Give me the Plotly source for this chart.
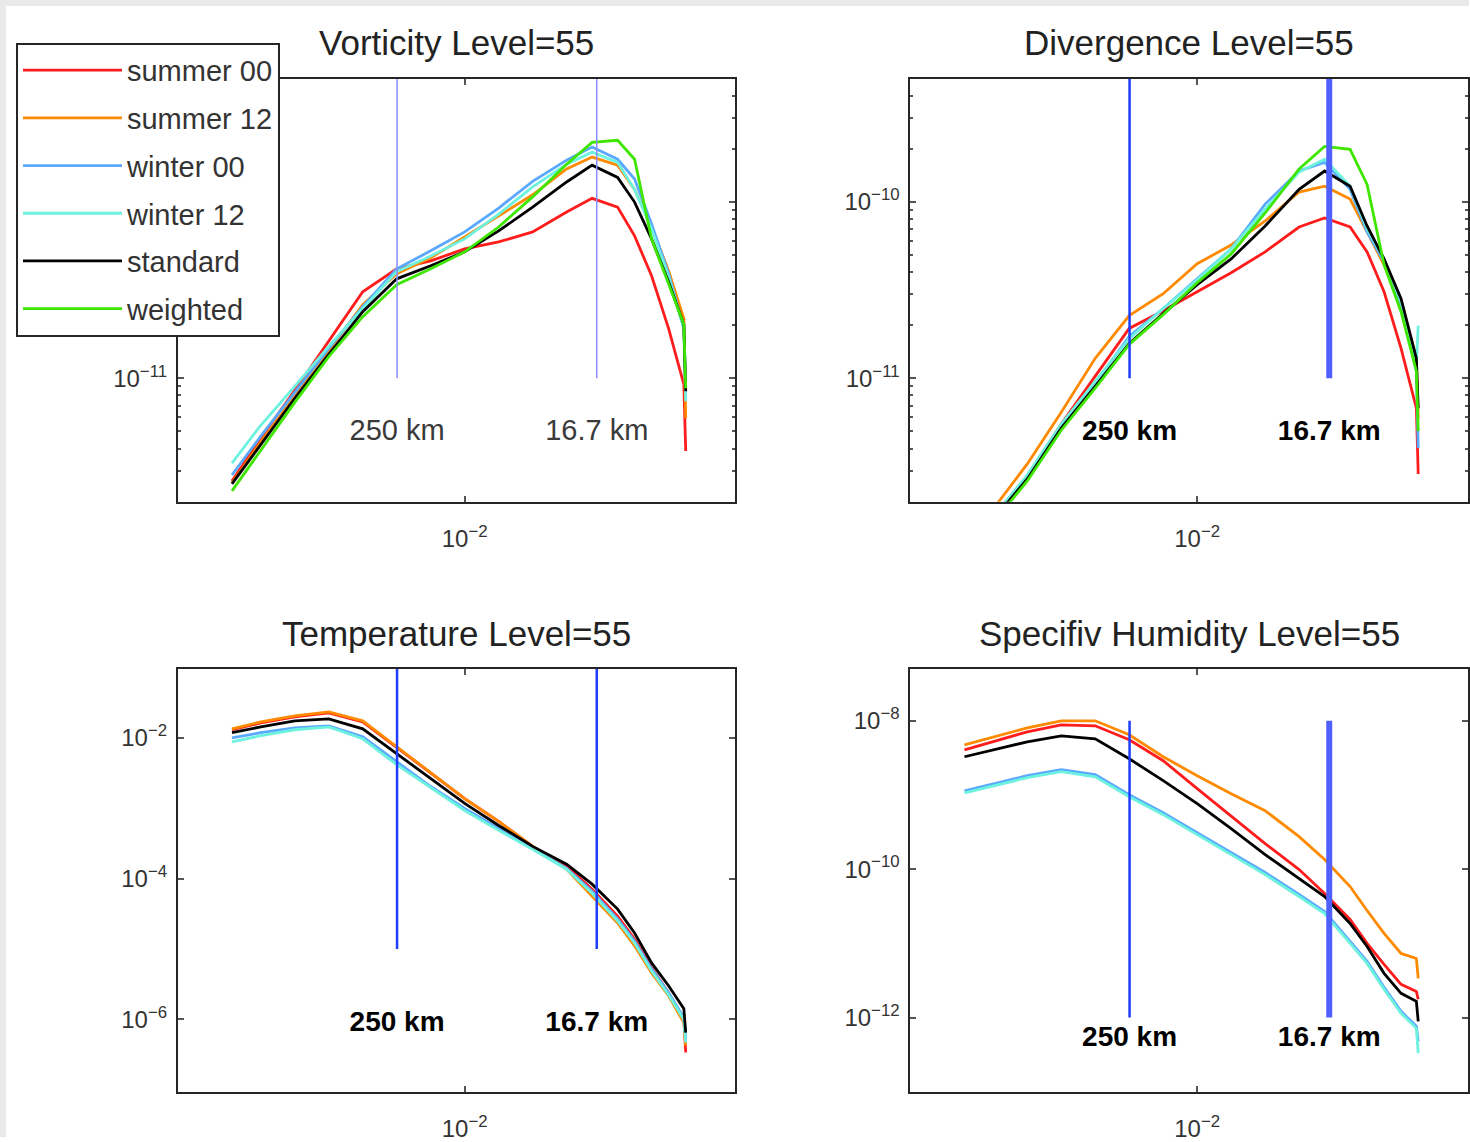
import plotly.graph_objects as go

# ---------------- data ----------------
wavenumber = [4.27e-4, 6.31e-4, 1.0e-3, 1.585e-3, 2.512e-3, 3.981e-3, 6.31e-3, 1.0e-2,
              1.585e-2, 2.512e-2, 3.981e-2, 5.623e-2, 7.943e-2, 0.1, 0.1259, 0.1585, 0.195, 0.2]

series_names = ["summer 00", "summer 12", "winter 00", "winter 12", "standard", "weighted"]

vort_summer00 = [2.62e-12, 4.58e-12, 8.55e-12, 1.62e-11, 3.10e-11, 4.18e-11, 4.64e-11, 5.42e-11, 5.94e-11,
                 6.77e-11, 8.78e-11, 1.05e-10, 9.37e-11, 6.43e-11, 3.82e-11, 1.92e-11, 9.25e-12, 3.87e-12]
vort_summer12 = [2.55e-12, 4.35e-12, 7.91e-12, 1.44e-11, 2.62e-11, 3.92e-11, 4.83e-11, 6.34e-11, 8.33e-11,
                 1.10e-10, 1.54e-10, 1.80e-10, 1.62e-10, 1.18e-10, 7.22e-11, 4.08e-11, 2.18e-11, 5.94e-12]
vort_winter00 = [2.83e-12, 4.70e-12, 8.34e-12, 1.48e-11, 2.55e-11, 4.18e-11, 5.29e-11, 6.77e-11, 9.25e-11,
                 1.31e-10, 1.73e-10, 2.05e-10, 1.75e-10, 1.35e-10, 7.51e-11, 3.92e-11, 1.92e-11, 8.23e-12]
vort_winter12 = [3.31e-12, 5.42e-12, 9.01e-12, 1.52e-11, 2.49e-11, 4.03e-11, 4.95e-11, 6.18e-11, 8.55e-11,
                 1.22e-10, 1.64e-10, 1.92e-10, 1.68e-10, 1.18e-10, 7.04e-11, 3.77e-11, 1.92e-11, 7.41e-12]
vort_standard = [2.52e-12, 4.24e-12, 7.71e-12, 1.37e-11, 2.39e-11, 3.67e-11, 4.35e-11, 5.22e-11, 6.86e-11,
                 9.37e-11, 1.30e-10, 1.62e-10, 1.38e-10, 1.00e-10, 6.18e-11, 3.53e-11, 2.02e-11, 8.45e-12]
vort_weighted = [2.30e-12, 3.92e-12, 7.31e-12, 1.33e-11, 2.24e-11, 3.40e-11, 4.18e-11, 5.22e-11, 7.22e-11,
                 1.07e-10, 1.64e-10, 2.18e-10, 2.24e-10, 1.75e-10, 6.18e-11, 3.44e-11, 2.02e-11, 8.79e-12]

div_summer00 = [9.62e-13, 1.64e-12, 2.79e-12, 5.50e-12, 1.03e-11, 1.92e-11, 2.42e-11, 3.10e-11, 3.97e-11,
                5.22e-11, 7.22e-11, 8.12e-11, 7.22e-11, 5.22e-11, 3.10e-11, 1.48e-11, 6.77e-12, 2.87e-12]
div_summer12 = [1.07e-12, 1.82e-12, 3.27e-12, 6.43e-12, 1.30e-11, 2.27e-11, 3.02e-11, 4.47e-11, 5.71e-11,
                7.81e-11, 1.14e-10, 1.23e-10, 1.04e-10, 6.77e-11, 4.41e-11, 2.62e-11, 1.30e-11, 5.94e-12]
div_winter00 = [9.37e-13, 1.62e-12, 2.79e-12, 5.42e-12, 9.37e-12, 1.73e-11, 2.49e-11, 3.67e-11, 5.42e-11,
                9.74e-11, 1.50e-10, 1.68e-10, 1.18e-10, 6.77e-11, 4.58e-11, 2.62e-11, 1.10e-11, 4.03e-12]
div_winter12 = [9.49e-13, 1.64e-12, 2.83e-12, 5.50e-12, 9.61e-12, 1.68e-11, 2.49e-11, 3.62e-11, 5.42e-11,
                9.13e-11, 1.48e-10, 1.75e-10, 1.23e-10, 7.04e-11, 4.76e-11, 2.72e-11, 1.20e-11, 1.99e-11]
div_standard = [9.12e-13, 1.58e-12, 2.69e-12, 5.22e-12, 9.01e-12, 1.58e-11, 2.33e-11, 3.40e-11, 4.76e-11,
                7.32e-11, 1.18e-10, 1.50e-10, 1.23e-10, 7.32e-11, 4.76e-11, 2.83e-11, 1.30e-11, 6.77e-12]
div_weighted = [8.67e-13, 1.52e-12, 2.62e-12, 5.08e-12, 8.79e-12, 1.56e-11, 2.30e-11, 3.49e-11, 5.08e-11,
                8.67e-11, 1.54e-10, 2.07e-10, 1.99e-10, 1.26e-10, 4.41e-11, 2.39e-11, 1.10e-11, 5.02e-12]

temp_summer00 = [1.30e-2, 1.63e-2, 1.98e-2, 2.26e-2, 1.68e-2, 7.22e-3, 3.10e-3, 1.37e-3, 6.49e-4,
                 2.87e-4, 1.50e-4, 7.08e-5, 2.94e-5, 1.39e-5, 5.40e-6, 2.39e-6, 9.93e-7, 3.39e-7]
temp_summer12 = [1.34e-2, 1.68e-2, 2.05e-2, 2.33e-2, 1.74e-2, 7.46e-3, 3.10e-3, 1.37e-3, 6.49e-4,
                 2.87e-4, 1.36e-4, 5.64e-5, 2.34e-5, 1.11e-5, 4.59e-6, 2.17e-6, 9.01e-7, 4.26e-7]
temp_winter00 = [1.00e-2, 1.18e-2, 1.38e-2, 1.48e-2, 1.03e-2, 4.58e-3, 2.03e-3, 9.90e-4, 5.16e-4,
                 2.69e-4, 1.40e-4, 6.64e-5, 2.67e-5, 1.30e-5, 5.23e-6, 2.39e-6, 1.06e-6, 5.35e-7]
temp_winter12 = [8.78e-3, 1.07e-2, 1.30e-2, 1.43e-2, 9.68e-3, 4.15e-3, 1.96e-3, 9.27e-4, 4.84e-4,
                 2.61e-4, 1.36e-4, 6.21e-5, 2.50e-5, 1.22e-5, 4.90e-6, 2.24e-6, 9.93e-7, 4.70e-7]
temp_standard = [1.18e-2, 1.43e-2, 1.74e-2, 1.86e-2, 1.34e-2, 5.94e-3, 2.63e-3, 1.17e-3, 5.69e-4,
                 2.87e-4, 1.60e-4, 8.34e-5, 3.69e-5, 1.69e-5, 6.35e-6, 3.01e-6, 1.42e-6, 6.50e-7]

hum_summer00 = [4.07e-9, 5.21e-9, 7.11e-9, 8.83e-9, 8.57e-9, 5.55e-9, 2.90e-9, 1.22e-9, 5.26e-10,
                2.21e-10, 9.88e-11, 4.70e-11, 2.10e-11, 9.98e-12, 5.20e-12, 2.80e-12, 2.25e-12, 1.76e-12]
hum_summer12 = [4.75e-9, 6.09e-9, 8.05e-9, 1.00e-8, 1.00e-8, 6.48e-9, 3.28e-9, 1.82e-9, 1.04e-9,
                6.15e-10, 2.75e-10, 1.35e-10, 5.83e-11, 2.77e-11, 1.36e-11, 7.31e-12, 6.26e-12, 3.37e-12]
hum_winter00 = [1.14e-9, 1.42e-9, 1.82e-9, 2.19e-9, 1.88e-9, 1.01e-9, 5.78e-10, 3.11e-10, 1.67e-10,
                9.00e-11, 4.55e-11, 2.69e-11, 1.06e-11, 5.71e-12, 2.55e-12, 1.21e-12, 7.62e-13, 4.79e-13]
hum_winter12 = [1.07e-9, 1.33e-9, 1.71e-9, 2.06e-9, 1.76e-9, 9.48e-10, 5.43e-10, 2.92e-10, 1.57e-10,
                8.45e-11, 4.28e-11, 2.52e-11, 9.98e-12, 5.36e-12, 2.40e-12, 1.14e-12, 7.16e-13, 3.30e-13]
hum_standard = [3.28e-9, 4.07e-9, 5.21e-9, 6.28e-9, 5.73e-9, 3.08e-9, 1.56e-9, 7.64e-10, 3.52e-10,
                1.57e-10, 7.47e-11, 4.28e-11, 1.85e-11, 9.08e-12, 3.94e-12, 2.12e-12, 1.65e-12, 8.89e-13]

scale_km = [250, 16.7]
scale_labels = ["250 km", "16.7 km"]
vort_line_y = [1e-11, 1e-9]
div_line_y = [1e-11, 1e-9]
temp_line_y = [1e-5, 1.0]
hum_line_y = [1e-12, 1e-8]
vort_label_y = 4.9e-12
div_label_y = 4.9e-12
temp_label_y = 8.7e-7
hum_label_y = 5.2e-13

x_tick_vals = [1e-2]
x_tick_text = ["10<sup>\u22122</sup>"]
vort_tick_vals = [1e-11, 1e-10]
vort_tick_text = ["10<sup>\u221211</sup>", ""]          # 10^-10 label sits under the legend
div_tick_text = ["10<sup>\u221211</sup>", "10<sup>\u221210</sup>"]
temp_tick_vals = [1e-6, 1e-4, 1e-2]
temp_tick_text = ["10<sup>\u22126</sup>", "10<sup>\u22124</sup>", "10<sup>\u22122</sup>"]
hum_tick_vals = [1e-12, 1e-10, 1e-8]
hum_tick_text = ["10<sup>\u221212</sup>", "10<sup>\u221210</sup>", "10<sup>\u22128</sup>"]
minor_vals = [m * 10.0 ** e for e in (-12, -11, -10) for m in range(2, 10)]

# ---------------- styling ----------------
W, H = 1470, 1142
FONT = "Liberation Sans"
colors = {"summer 00": "#ff1c1c", "summer 12": "#ff8a00", "winter 00": "#5aa8ff",
          "winter 12": "#6cf2de", "standard": "#000000", "weighted": "#3ee600"}

panels = [
    dict(title="Vorticity Level=55", ax="", series=[vort_summer00, vort_summer12, vort_winter00,
         vort_winter12, vort_standard, vort_weighted], line_y=vort_line_y, label_y=vort_label_y,
         line_w=[1.5, 1.5], line_c=["#8a8cff", "#8a8cff"], bold=False,
         tv=vort_tick_vals, tt=vort_tick_text, yr=[-11.70, -9.30], minor=True,
         xd=[178, 736], yd=[79, 504]),
    dict(title="Divergence Level=55", ax="2", series=[div_summer00, div_summer12, div_winter00,
         div_winter12, div_standard, div_weighted], line_y=div_line_y, label_y=div_label_y,
         line_w=[2.5, 6], line_c=["#1e3cff", "#5060ff"], bold=True,
         tv=vort_tick_vals, tt=div_tick_text, yr=[-11.70, -9.30], minor=True,
         xd=[911, 1469], yd=[79, 504]),
    dict(title="Temperature Level=55", ax="3", series=[temp_summer00, temp_summer12, temp_winter00,
         temp_winter12, temp_standard], line_y=temp_line_y, label_y=temp_label_y,
         line_w=[2.5, 2.5], line_c=["#1e3cff", "#1e3cff"], bold=True,
         tv=temp_tick_vals, tt=temp_tick_text, yr=[-7.033, -1.024], minor=False,
         xd=[178, 736], yd=[672, 1097]),
    dict(title="Specifiv Humidity Level=55", ax="4", series=[hum_summer00, hum_summer12, hum_winter00,
         hum_winter12, hum_standard], line_y=hum_line_y, label_y=hum_label_y,
         line_w=[2.5, 6], line_c=["#1e3cff", "#5060ff"], bold=True,
         tv=hum_tick_vals, tt=hum_tick_text, yr=[-13.007, -7.302], minor=False,
         xd=[911, 1469], yd=[672, 1097]),
]

fig = go.Figure()
annotations = []
layout_axes = {}

for pi, p in enumerate(panels):
    xa, ya = "x" + p["ax"], "y" + p["ax"]
    for name, vals in zip(series_names, p["series"]):
        fig.add_trace(go.Scatter(
            x=wavenumber, y=vals, mode="lines", name=name, legendgroup=name,
            showlegend=(pi == 0), line=dict(color=colors[name], width=2.8),
            xaxis=xa, yaxis=ya, hoverinfo="skip"))
    for km, w, c in zip(scale_km, p["line_w"], p["line_c"]):
        kx = 1.0 / km
        fig.add_trace(go.Scatter(x=[kx, kx], y=p["line_y"], mode="lines", showlegend=False,
                                 line=dict(color=c, width=w), xaxis=xa, yaxis=ya, hoverinfo="skip"))
    fig.add_trace(go.Scatter(
        x=[1.0 / km for km in scale_km], y=[p["label_y"]] * len(scale_km), mode="text",
        text=[("<b>%s</b>" % s) if p["bold"] else s for s in scale_labels],
        textposition="middle center", showlegend=False, hoverinfo="skip",
        textfont=dict(family=FONT, size=28 if p["bold"] else 29,
                      color="#000000" if p["bold"] else "#3a3a3a"),
        xaxis=xa, yaxis=ya))

    common = dict(showline=True, linecolor="#262626", linewidth=2, mirror="ticks",
                  ticks="inside", ticklen=6, tickwidth=1.5, tickcolor="#555555",
                  showgrid=False, zeroline=False,
                  tickfont=dict(family=FONT, size=24, color="#333333"))
    xdom = [p["xd"][0] / W, p["xd"][1] / W]
    ydom = [1 - p["yd"][1] / H, 1 - p["yd"][0] / H]
    xkey = "xaxis" + p["ax"]
    ykey = "yaxis" + p["ax"]
    layout_axes[xkey] = dict(type="log", range=[-3.688, -0.406], domain=xdom, anchor=ya,
                             tickmode="array", tickvals=x_tick_vals, ticktext=x_tick_text,
                             ticklabelstandoff=14, **common)
    ydict = dict(type="log", range=p["yr"], domain=ydom, anchor=xa,
                 tickmode="array", tickvals=p["tv"], ticktext=p["tt"],
                 ticklabelstandoff=4, **common)
    if p["minor"]:
        ydict["minor"] = dict(ticks="inside", ticklen=3, tickcolor="#555555",
                              tickmode="array", tickvals=minor_vals, showgrid=False)
    layout_axes[ykey] = ydict

    annotations.append(dict(text=p["title"], xref="paper", yref="paper",
                            x=(xdom[0] + xdom[1]) / 2, y=1 - (p["yd"][0] - 36) / H,
                            xanchor="center", yanchor="middle", showarrow=False,
                            font=dict(family=FONT, size=35, color="#222222")))

fig.update_layout(
    width=W, height=H, margin=dict(l=0, r=0, t=0, b=0),
    paper_bgcolor="white", plot_bgcolor="white",
    annotations=annotations,
    shapes=[
        dict(type="rect", xref="paper", yref="paper", x0=0, x1=1, y0=1 - 6 / H, y1=1,
             fillcolor="#e9e9e9", line=dict(width=0), layer="below"),
        dict(type="rect", xref="paper", yref="paper", x0=0, x1=6 / W, y0=0, y1=1,
             fillcolor="#e9e9e9", line=dict(width=0), layer="below"),
    ],
    legend=dict(x=16 / W, y=1 - 43 / H, xanchor="left", yanchor="top",
                bgcolor="white", bordercolor="#262626", borderwidth=2,
                font=dict(family=FONT, size=29, color="#333333"),
                itemwidth=99, tracegroupgap=7, traceorder="grouped"),
    showlegend=True,
    **layout_axes,
)

fig.write_html("out.html")
